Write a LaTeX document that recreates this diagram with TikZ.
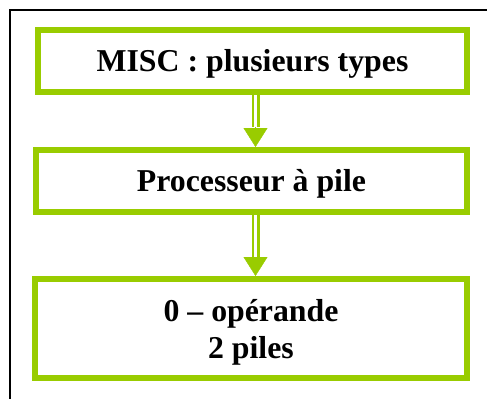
\documentclass[tikz,border=0pt]{standalone}
\usepackage{fontspec}
\setmainfont{Liberation Serif}
\usetikzlibrary{arrows.meta}

\definecolor{leafgreen}{RGB}{153,204,0}

\begin{document}
\begin{tikzpicture}[x=1pt,y=-1pt,
  greenbox/.style={draw=leafgreen, line width=6pt, rectangle, inner sep=0pt,
    font=\fontsize{31.8}{36.7}\selectfont\bfseries, align=center},
  shaft/.style={draw=leafgreen, line width=2.3pt, double=white, double distance=3.4pt},
  head/.style={draw=leafgreen, fill=leafgreen, line width=0.4pt, -{Triangle[width=24pt,length=19pt]}}]
\useasboundingbox (0,0) rectangle (487,399);

%Shape: Frame
\draw [line width=1.7pt] (487,9.7) -- (9.7,9.7) -- (9.7,399);

% Text Node
\node [greenbox, minimum width=429pt, minimum height=62pt, text height=21pt, text depth=0pt] (misc) at (252.5,61) {MISC : plusieurs types};
% Text Node
\node [greenbox, minimum width=431pt, minimum height=62pt, text height=21pt, text depth=0pt] (pile) at (251.5,181) {Processeur à pile};
% Text Node
\node [greenbox, minimum width=432pt, minimum height=99pt, text height=59pt, text depth=0pt] (oper) at (251,328.5) {0 – opérande\\2 piles};

%Straight Lines
\coordinate (h1) at (255.5,127);
\coordinate (h2) at (255.5,257);
\draw [shaft] (h1 |- misc.south) -- (h1);
\draw [head] (h1) -- (h1 |- pile.north);
\draw [shaft] (h2 |- pile.south) -- (h2);
\draw [head] (h2) -- (h2 |- oper.north);

\end{tikzpicture}
\end{document}
